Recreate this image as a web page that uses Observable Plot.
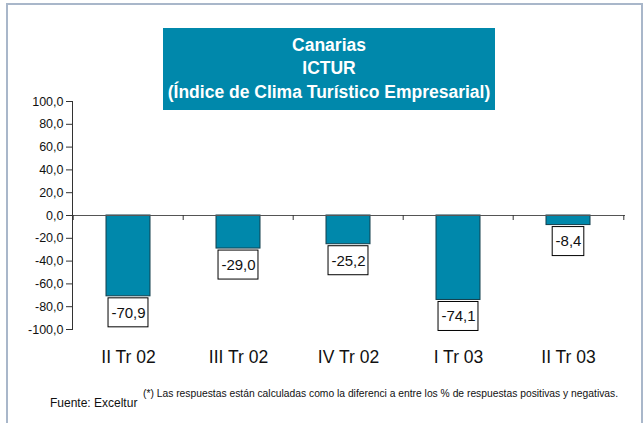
<!DOCTYPE html>
<html>
<head>
<meta charset="utf-8">
<script src="https://cdn.jsdelivr.net/npm/d3@7"></script>
<script src="https://cdn.jsdelivr.net/npm/@observablehq/plot@0.6"></script>
<style>
  html, body { margin: 0; padding: 0; background: #fff; }
  #wrap { position: relative; width: 644px; height: 423px; overflow: hidden; font-family: "Liberation Sans", Arial, sans-serif; }
  #border { position: absolute; left: 6px; top: 3px; width: 637px; height: 440px; border: 2px solid #a9b7ca; box-sizing: border-box; }
  #chart { position: absolute; left: 0; top: 0; }
  #title { position: absolute; left: 163px; top: 28px; width: 332px; height: 82px; background: #0088ab; color: #fff;
           font-weight: bold; font-size: 17.5px; line-height: 23.5px; text-align: center; padding-top: 5.5px; box-sizing: border-box; }
  #fuente { position: absolute; left: 50px; top: 396px; font-size: 12px; line-height: 14px; color: #111; }
  #nota { position: absolute; left: 143px; top: 388px; font-size: 10.3px; line-height: 12px; color: #111; white-space: nowrap; }
</style>
</head>
<body>
<div id="wrap">
  <div id="border"></div>
  <div id="chart"></div>
  <div id="title">Canarias<br>ICTUR<br>(Índice de Clima Turístico Empresarial)</div>
  <div id="fuente">Fuente: Exceltur</div>
  <div id="nota">(*) Las respuestas están calculadas como la diferenci a entre los % de respuestas positivas y negativas.</div>
</div>
<script>
const categories = ["II Tr 02", "III Tr 02", "IV Tr 02", "I Tr 03", "II Tr 03"];
const values = [-70.9, -29.0, -25.2, -74.1, -8.4];
const yTicks = [-100, -80, -60, -40, -20, 0, 20, 40, 60, 80, 100];

const data = categories.map((c, i) => ({cat: c, value: values[i]}));
const fmt = v => v.toFixed(1).replace(".", ",");

const W = 644, H = 423, mL = 72, mR = 19, mT = 101, mB = 94;
const step = (W - mL - mR) / categories.length;
const bandwidth = step * 0.4;

const ctx = document.createElement("canvas").getContext("2d");
ctx.font = "15px 'Liberation Sans', Arial, sans-serif";
const boxW = t => ctx.measureText(t).width + 6;

const labelBoxes = data.map(d => {
  const inset = (bandwidth - boxW(fmt(d.value))) / 2;
  return Plot.barY([d], {
    x: "cat", y1: "value", y2: "value",
    insetTop: 2, insetBottom: -31, insetLeft: inset, insetRight: inset,
    fill: "white", stroke: "black", strokeWidth: 1
  });
});

const chart = Plot.plot({
  width: W, height: H,
  marginLeft: mL, marginRight: mR, marginTop: mT, marginBottom: mB,
  style: { fontFamily: "'Liberation Sans', Arial, sans-serif", color: "#111", background: "transparent" },
  x: { domain: categories, paddingInner: 0.6, paddingOuter: 0.3, label: null },
  y: { domain: [-100, 100], label: null },
  marks: [
    Plot.barY(data, { x: "cat", y: "value", fill: "#0088ab", stroke: "#123f4d", strokeWidth: 1 }),
    Plot.ruleY([0], { stroke: "#555" }),
    Plot.ruleX(categories, { x: d => d, y1: 0, y2: 0, insetBottom: -5, dx: -step / 2, stroke: "#333" }),
    Plot.ruleX(categories.slice(-1), { x: d => d, y1: 0, y2: 0, insetBottom: -5, dx: step / 2, stroke: "#333" }),
    Plot.frame({ anchor: "left", stroke: "#333" }),
    Plot.axisY({ ticks: yTicks, tickSize: 6, tickPadding: 3, tickFormat: fmt, fontSize: 12.5, stroke: "#333", label: null }),
    Plot.axisX({ tickSize: 0, tickPadding: 21, fontSize: 17.5, label: null }),
    ...labelBoxes,
    Plot.text(data, { x: "cat", y: "value", text: d => fmt(d.value), dy: 16.5, fontSize: 15, fill: "#111" })
  ]
});
document.getElementById("chart").appendChild(chart);
</script>
</body>
</html>
